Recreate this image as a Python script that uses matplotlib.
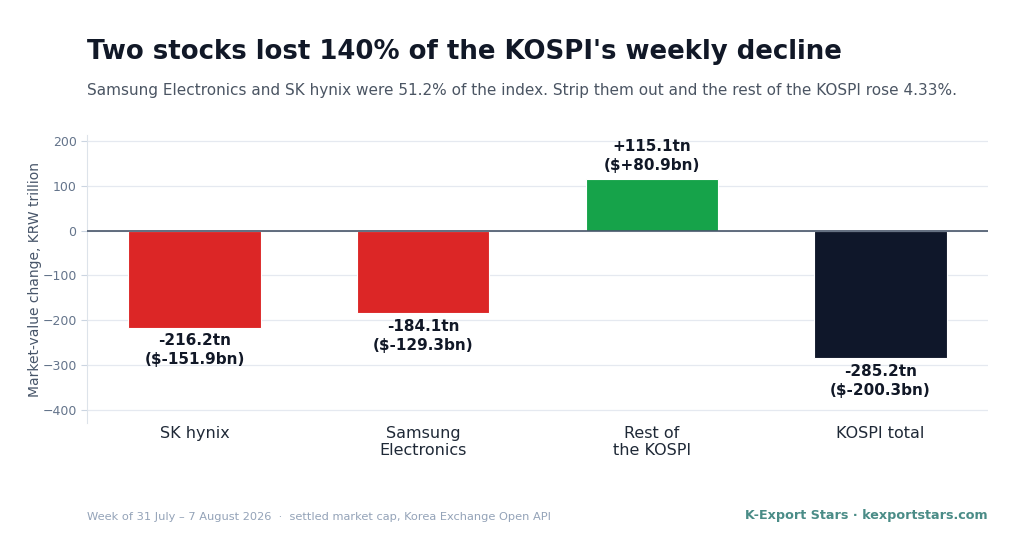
import numpy as np
import matplotlib
matplotlib.use("Agg")
import matplotlib.pyplot as plt

# data
categories = ["SK hynix", "Samsung\nElectronics", "Rest of\nthe KOSPI", "KOSPI total"]
krw_tn = [-216.2, -184.1, 115.1, -285.2]
usd_bn = [-151.9, -129.3, 80.9, -200.3]
bar_colors = ["#dc2626", "#dc2626", "#16a34a", "#0f172a"]
yticks = [-400, -300, -200, -100, 0, 100, 200]

fig = plt.figure(figsize=(10.24, 5.38), dpi=100)
ax = fig.add_axes([87 / 1024, 1 - 423 / 538, (988 - 87) / 1024, (423 - 135) / 538])

x = np.arange(len(categories))
ax.bar(x, krw_tn, width=0.58, color=bar_colors, edgecolor="white", linewidth=0.8, zorder=3)

for xi, v, u in zip(x, krw_tn, usd_bn):
    txt = f"{v:+.1f}tn\n(${u:+.1f}bn)" if v > 0 else f"{v:.1f}tn\n(${u:.1f}bn)"
    if v >= 0:
        ax.annotate(txt, (xi, v), xytext=(0, 4), textcoords="offset points",
                    ha="center", va="bottom", fontsize=11, fontweight="bold",
                    color="#111827", linespacing=1.35)
    else:
        ax.annotate(txt, (xi, v), xytext=(0, -4), textcoords="offset points",
                    ha="center", va="top", fontsize=11, fontweight="bold",
                    color="#111827", linespacing=1.35)

ax.axhline(0, color="#475569", linewidth=1.2, zorder=4)
ax.set_xlim(-0.47, 3.47)
ax.set_ylim(-429, 213)
ax.set_yticks(yticks)
ax.set_xticks(x)
ax.set_xticklabels(categories, fontsize=11.5, color="#1f2937")
ax.tick_params(axis="x", length=0, pad=2)
ax.tick_params(axis="y", labelsize=9, colors="#64748b", length=4, color="#cbd5e1")
ax.yaxis.grid(True, color="#e5e9f0", linewidth=0.9, zorder=0)
ax.set_axisbelow(True)
for s in ["top", "right", "bottom"]:
    ax.spines[s].set_visible(False)
ax.spines["left"].set_color("#dde3ea")
ax.set_ylabel("Market-value change, KRW trillion", fontsize=10, color="#475569", labelpad=0)

fig.text(87 / 1024, 1 - 52 / 538, "Two stocks lost 140% of the KOSPI's weekly decline",
         fontsize=18.7, fontweight="bold", color="#111827", va="center", ha="left")
fig.text(87 / 1024, 1 - 91 / 538,
         "Samsung Electronics and SK hynix were 51.2% of the index. Strip them out and the rest of the KOSPI rose 4.33%.",
         fontsize=11, color="#4b5563", va="center", ha="left")
fig.text(87 / 1024, 1 - 517 / 538,
         "Week of 31 July \u2013 7 August 2026  \u00b7  settled market cap, Korea Exchange Open API",
         fontsize=8.2, color="#94a3b8", va="center", ha="left")
fig.text(988 / 1024, 1 - 516 / 538, "K-Export Stars \u00b7 kexportstars.com",
         fontsize=9.2, fontweight="bold", color="#4a8c87", va="center", ha="right")

fig.savefig("out.png", dpi=100, facecolor="white")
